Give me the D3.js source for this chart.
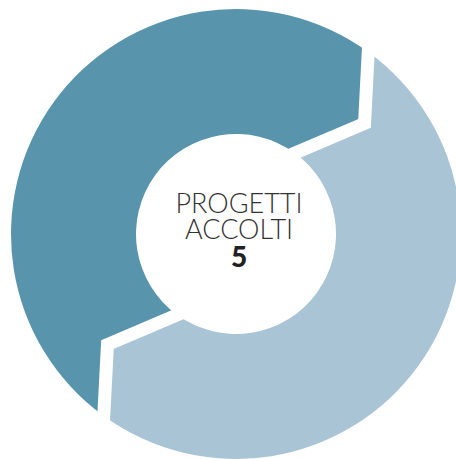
<!DOCTYPE html>
<html>
<head>
<meta charset="utf-8">
<script src="https://cdn.jsdelivr.net/npm/d3@7"></script>
<style>
  html, body { margin: 0; padding: 0; background: #fff; }
  svg { display: block; }
</style>
</head>
<body>
<script>
var Width = 456;
var Height = 459;

// two equal segments of the ring
var segments = ["segmento chiaro", "segmento scuro"];
var values = [1, 1];
var colors = ["#a9c4d4", "#5894ac"];

var titleLines = ["PROGETTI", "ACCOLTI"];
var total = 5;

var cx = 236, cy = 234;
var outerR = 225, innerR = 100;
var gap = 13;

// separator shape, in (radial, tangential) units
var bendR = 165, bendT = 39;

function pt(r, t, a) {
	return [cx + r * Math.sin(a) + t * Math.cos(a), cy - r * Math.cos(a) + t * Math.sin(a)];
}

function chevron(a) {
	return [pt(innerR, 0, a), pt(bendR, bendT, a), pt(outerR, 0, a)];
}

function slicePath(d) {
	var s = chevron(d.startAngle);
	var e = chevron(d.endAngle);
	var p = d3.path();
	p.moveTo(s[0][0], s[0][1]);
	p.lineTo(s[1][0], s[1][1]);
	p.lineTo(s[2][0], s[2][1]);
	p.arc(cx, cy, outerR, d.startAngle - Math.PI / 2, d.endAngle - Math.PI / 2, false);
	p.lineTo(e[1][0], e[1][1]);
	p.lineTo(e[0][0], e[0][1]);
	p.arc(cx, cy, innerR, d.endAngle - Math.PI / 2, d.startAngle - Math.PI / 2, true);
	p.closePath();
	return p.toString();
}

function separatorPath(a) {
	var c = chevron(a);
	var i0 = [c[0][0] - (c[1][0] - c[0][0]) * 0.4, c[0][1] - (c[1][1] - c[0][1]) * 0.4];
	var o0 = [c[2][0] + (c[2][0] - c[1][0]) * 0.4, c[2][1] + (c[2][1] - c[1][1]) * 0.4];
	return d3.line()([i0, c[1], o0]);
}

var svg = d3.select("body").append("svg")
	.attr("width", Width)
	.attr("height", Height);

var pie = d3.pie()
	.sort(null)
	.startAngle(36 * Math.PI / 180)
	.endAngle(36 * Math.PI / 180 + 2 * Math.PI);

var arcs = pie(values);

svg.append("g")
	.selectAll("path")
	.data(arcs)
	.enter()
	.append("path")
	.attr("fill", function (d, i) { return colors[i]; })
	.attr("d", slicePath);

svg.append("g")
	.selectAll("path")
	.data(arcs)
	.enter()
	.append("path")
	.attr("fill", "none")
	.attr("stroke", "#fff")
	.attr("stroke-width", gap)
	.attr("stroke-linejoin", "miter")
	.attr("d", function (d) { return separatorPath(d.startAngle); });

// centre label: one text block, one line per tspan
var label = svg.append("text")
	.attr("text-anchor", "middle")
	.attr("font-family", "Lato, 'Open Sans', sans-serif")
	.attr("x", cx + 3)
	.attr("y", 213);

label.selectAll("tspan.title")
	.data(titleLines)
	.enter()
	.append("tspan")
	.attr("class", "title")
	.attr("x", cx + 3)
	.attr("dy", function (d, i) { return i === 0 ? 0 : 26; })
	.attr("font-size", 27)
	.attr("font-weight", 300)
	.attr("fill", "#333")
	.text(function (d) { return d; });

label.append("tspan")
	.attr("x", cx + 3)
	.attr("dy", 27.5)
	.attr("font-size", 28)
	.attr("font-weight", 900)
	.attr("fill", "#222")
	.text(total);
</script>
</body>
</html>
